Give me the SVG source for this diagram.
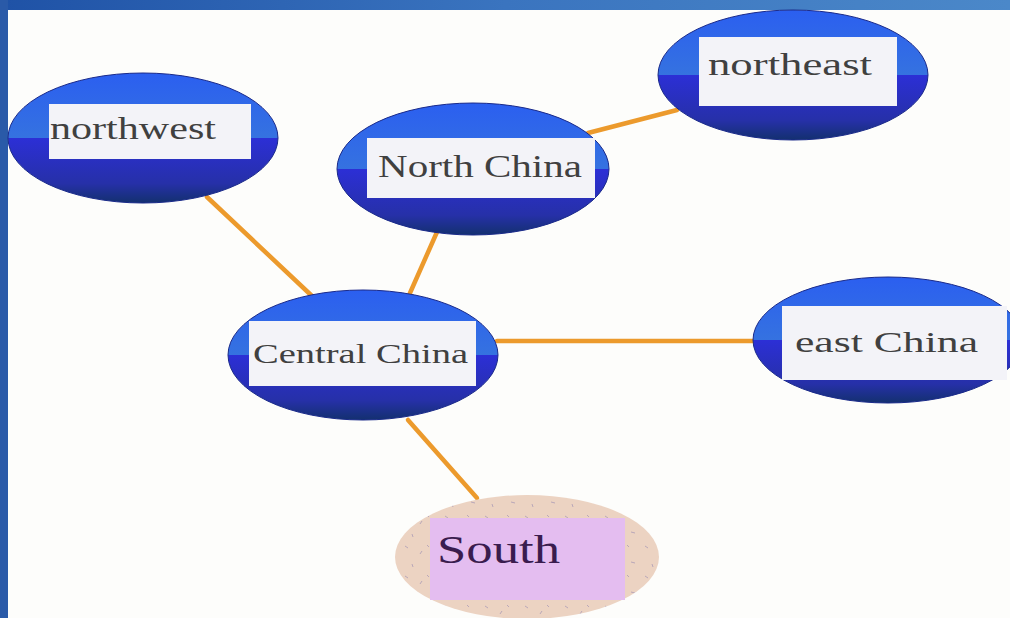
<svg xmlns="http://www.w3.org/2000/svg" width="1010" height="618" viewBox="0 0 1010 618">
<defs>
<linearGradient id="bar" x1="0" y1="0" x2="1" y2="0">
<stop offset="0" stop-color="#1f52a6"/><stop offset="0.5" stop-color="#3a74bf"/><stop offset="1" stop-color="#4b88c9"/>
</linearGradient>
<linearGradient id="blue" x1="0" y1="0" x2="0" y2="1">
<stop offset="0" stop-color="#2b5ff0"/><stop offset="0.5" stop-color="#3572e0"/>
<stop offset="0.5" stop-color="#2c2fd6"/><stop offset="0.85" stop-color="#2630a8"/><stop offset="1" stop-color="#13306f"/>
</linearGradient>
<pattern id="speck" width="40" height="30" patternUnits="userSpaceOnUse">
<rect width="40" height="30" fill="#ecd3c2"/>
<path d="M5 6l3 2M20 14l2 -3M31 22l4 1M12 24l1 3M27 5l2 2" stroke="#b9a7b8" stroke-width="1"/>
</pattern>
<style>
.ell{fill:url(#blue);stroke:#1a2a8a;stroke-width:1}
.box{fill:#f3f3f8}
.lbl{font-family:"Liberation Serif","DejaVu Serif",serif;fill:#404040;}
.edge{stroke:#ec9a2c;stroke-width:4.5;fill:none;stroke-linecap:round}
</style>
</defs>
<rect width="1010" height="618" fill="#fdfdfb"/>
<rect x="0" y="0" width="1010" height="10" fill="url(#bar)"/>
<rect x="0" y="0" width="8" height="618" fill="#2a5aa8"/>
<g id="connectors">
<line class="edge" x1="207" y1="197" x2="312" y2="296"/>
<line class="edge" x1="437" y1="232" x2="410" y2="293"/>
<line class="edge" x1="588" y1="133" x2="677" y2="110"/>
<line class="edge" x1="497" y1="341" x2="755" y2="341"/>
<line class="edge" x1="408" y1="420" x2="477" y2="498"/>
</g>
<g id="northwest">
<ellipse class="ell" cx="143" cy="138" rx="135" ry="65"/>
<rect class="box" x="49" y="104" width="202" height="55"/>
<text class="lbl" x="50" y="139" font-size="31" textLength="166" lengthAdjust="spacingAndGlyphs">northwest</text>
</g>
<g id="northeast">
<ellipse class="ell" cx="793" cy="75" rx="135" ry="65"/>
<rect class="box" x="699" y="37" width="198" height="69"/>
<text class="lbl" x="708" y="75" font-size="31" textLength="164" lengthAdjust="spacingAndGlyphs">northeast</text>
</g>
<g id="north-china">
<ellipse class="ell" cx="473" cy="169" rx="136" ry="66"/>
<rect class="box" x="367" y="138" width="228" height="60"/>
<text class="lbl" x="378" y="177" font-size="32" textLength="204" lengthAdjust="spacingAndGlyphs">North China</text>
</g>
<g id="central-china">
<ellipse class="ell" cx="363" cy="355" rx="135" ry="65"/>
<rect class="box" x="249" y="321" width="227" height="65"/>
<text class="lbl" x="253" y="363" font-size="28" textLength="215" lengthAdjust="spacingAndGlyphs">Central China</text>
</g>
<g id="east-china">
<ellipse class="ell" cx="888" cy="340" rx="135" ry="63"/>
<rect class="box" x="782" y="306" width="225" height="74"/>
<text class="lbl" x="795" y="352" font-size="29" textLength="183" lengthAdjust="spacingAndGlyphs">east China</text>
</g>
<g id="south">
<ellipse cx="527" cy="557" rx="132" ry="62" fill="url(#speck)"/>
<rect x="430" y="518" width="195" height="82" fill="#e4bdf0"/>
<text class="lbl" x="437" y="563" font-size="40" textLength="123" lengthAdjust="spacingAndGlyphs" style="fill:#3a1c4e">South</text>
</g>
</svg>
